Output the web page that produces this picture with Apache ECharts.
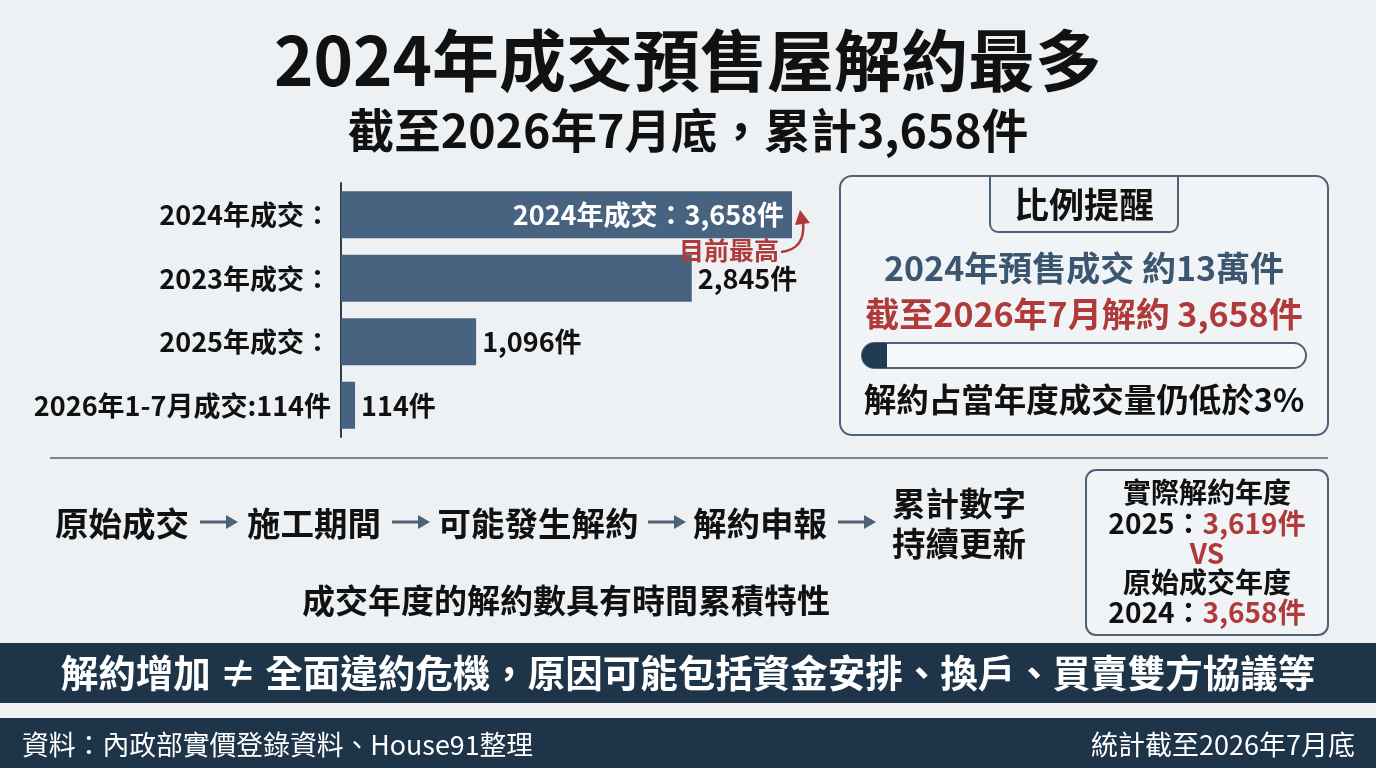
<!DOCTYPE html>
<html><head><meta charset="utf-8">
<script src="https://cdn.jsdelivr.net/npm/echarts@6/dist/echarts.min.js"></script>
<style>html,body{margin:0;padding:0;background:#edf1f4;}#c{width:1376px;height:768px;}</style>
</head><body><div id="c"></div>
<script>
const categories = ['2024年成交：', '2023年成交：', '2025年成交：', '2026年1-7月成交:114件'];
const values = [3658, 2845, 1096, 114];
const barLabels = ['2024年成交：3,658件', '2,845件', '1,096件', '114件'];
const flowSteps = ['原始成交', '施工期間', '可能發生解約', '解約申報', '累計數字\n持續更新'];

const F = 'Noto Sans CJK TC';
const chart = echarts.init(document.getElementById('c'));
const dark = '#1e3448', red = '#b03a3a', frame = '#4d6278';

function txt(x, y, text, size, color, opts) {
  opts = opts || {};
  return { type: 'text', x: x, y: y, z: 10, style: Object.assign({
    text: text, fontFamily: F, fontSize: size, fontWeight: opts.weight || 'bold', fill: color,
    align: opts.align || 'center', verticalAlign: 'middle', lineHeight: opts.lh
  }, opts.rich ? { rich: opts.rich } : {}) };
}
function rich(size) {
  return { k: { fill: '#111', fontFamily: F, fontSize: size, fontWeight: 'bold' }, r: { fill: red, fontFamily: F, fontSize: size, fontWeight: 'bold' } };
}

const flowX = [122, 314, 538, 760, 959];
const graphics = [
  txt(688, 61, '2024年成交預售屋解約最多', 67, '#111'),
  txt(688, 130, '截至2026年7月底，累計3,658件', 46.5, '#111'),
  // right box
  { type: 'rect', shape: { x: 840, y: 176, width: 488, height: 259, r: 12 }, style: { fill: 'rgba(255,255,255,0.25)', stroke: frame, lineWidth: 2 } },
  { type: 'rect', shape: { x: 990, y: 176, width: 188, height: 56, r: [0, 0, 8, 8] }, style: { fill: '#eef2f5', stroke: frame, lineWidth: 2 } },
  txt(1084, 205, '比例提醒', 35, '#111'),
  txt(1084, 268, '2024年預售成交 約13萬件', 34, '#3d5670'),
  txt(1084, 314, '截至2026年7月解約 3,658件', 34, red),
  { type: 'rect', shape: { x: 862, y: 343, width: 444, height: 25, r: 12.5 }, style: { fill: '#f6f8fa', stroke: frame, lineWidth: 2 } },
  { type: 'rect', shape: { x: 862, y: 343, width: 25, height: 25, r: [12.5, 0, 0, 12.5] }, style: { fill: '#1f3a52' } },
  txt(1084, 400, '解約占當年度成交量仍低於3%', 32.5, '#111'),
  // separator
  { type: 'line', shape: { x1: 50, y1: 458, x2: 1328, y2: 458 }, style: { stroke: frame, lineWidth: 1.5 } },
  // annotation
  txt(729, 250, '目前最高', 25, red),
  { type: 'bezierCurve', shape: { x1: 781, y1: 252, x2: 803, y2: 222, cpx1: 806, cpy1: 249 }, style: { stroke: red, lineWidth: 2.5, fill: null } },
  { type: 'polygon', shape: { points: [[800, 210], [795, 225], [810, 223]] }, style: { fill: red } },
  txt(566, 600, '成交年度的解約數具有時間累積特性', 33, '#111'),
  // small right box
  { type: 'rect', shape: { x: 1086, y: 470, width: 242, height: 165, r: 10 }, style: { fill: 'rgba(255,255,255,0.25)', stroke: frame, lineWidth: 2 } },
  txt(1207, 492, '實際解約年度', 28, '#111'),
  txt(1207, 523, '{k|2025：}{r|3,619件}', 28, '#111', { rich: rich(28) }),
  txt(1207, 553, 'VS', 28, red),
  txt(1207, 582, '原始成交年度', 28, '#111'),
  txt(1207, 612, '{k|2024：}{r|3,658件}', 28, '#111', { rich: rich(28) }),
  // bands
  { type: 'rect', shape: { x: 0, y: 643, width: 1376, height: 60 }, style: { fill: dark } },
  txt(688, 673, '解約增加 ≠ 全面違約危機，原因可能包括資金安排、換戶、買賣雙方協議等', 37.5, '#fff'),
  { type: 'rect', shape: { x: 0, y: 718, width: 1376, height: 50 }, style: { fill: dark } },
  txt(22, 745, '資料：內政部實價登錄資料、House91整理', 26.8, '#fff', { align: 'left', weight: 'normal' }),
  txt(1355, 745, '統計截至2026年7月底', 27, '#fff', { align: 'right', weight: 'normal' })
];
flowSteps.forEach(function (s, i) {
  graphics.push(txt(flowX[i], 523, s, 33.5, '#111', { lh: 40 }));
});
[200, 392, 648, 838].forEach(function (ax) {
  graphics.push({ type: 'line', shape: { x1: ax, y1: 522, x2: ax + 28, y2: 522 }, style: { stroke: frame, lineWidth: 3 } });
  graphics.push({ type: 'polygon', shape: { points: [[ax + 26, 515], [ax + 38, 522], [ax + 26, 529]] }, style: { fill: frame } });
});

chart.setOption({
  backgroundColor: '#edf1f4',
  animation: false,
  grid: { left: 341, top: 183, width: 451, height: 254 },
  xAxis: { type: 'value', min: 0, max: 3658, show: false },
  yAxis: {
    type: 'category', data: categories, inverse: true,
    axisLine: { show: true, lineStyle: { color: '#2f3e4c', width: 2 } },
    axisTick: { show: false },
    axisLabel: { margin: 10, fontFamily: F, fontSize: 27, fontWeight: 'bold', color: '#111' }
  },
  series: [{
    type: 'bar', barWidth: 47,
    data: values.map(function (v, i) {
      return i === 0 ? { value: v, label: { position: 'insideRight', color: '#fff', distance: 8 } } : v;
    }),
    itemStyle: { color: '#48637f' },
    label: {
      show: true, position: 'right', distance: 6, fontFamily: F, fontSize: 27, fontWeight: 'bold', color: '#111',
      formatter: function (p) { return barLabels[p.dataIndex]; }
    }
  }],
  graphic: graphics
});
</script></body></html>
